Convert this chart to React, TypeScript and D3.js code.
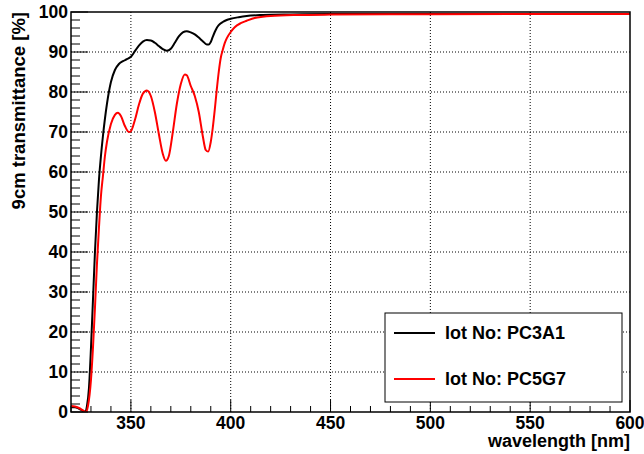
import React from "react";
import * as d3 from "d3";

const wlBlack = [320, 322, 324, 326, 327, 328, 329, 330, 331, 332, 333, 334, 335, 336, 338, 340, 342, 344, 346, 348, 350, 352, 354, 356, 358, 360, 362, 364, 366, 368, 370, 372, 374, 376, 378, 380, 382, 384, 386, 388, 389, 390, 391, 392, 393, 394, 396, 398, 400, 404, 408, 416, 430, 450, 500, 550, 600];
const tBlack = [1.2, 1.2, 0.8, 0.3, 0, 1.5, 6, 16, 28, 40, 50, 58, 64, 69, 77, 82.5, 85.5, 87, 87.7, 88.2, 88.8, 90.2, 91.6, 92.6, 93.0, 92.9, 92.3, 91.5, 90.7, 90.3, 90.8, 92.3, 93.9, 94.9, 95.2, 94.9, 94.4, 93.6, 92.7, 91.9, 91.9, 92.5, 93.8, 95.0, 96.0, 96.7, 97.5, 98.0, 98.3, 98.7, 99.0, 99.25, 99.4, 99.5, 99.5, 99.5, 99.5];

const wlRed = [320, 322, 324, 326, 327.5, 328.5, 330, 331, 332, 333, 334, 335, 336, 337, 338, 340, 342, 343.5, 345, 347, 349, 350, 352, 354, 356, 358, 360, 362, 364, 366, 367.5, 369, 371, 373, 375, 377, 378, 380, 382, 384, 386, 387.5, 388.7, 390, 391, 392, 393, 394, 395, 396, 397, 398, 400, 402, 405, 408, 412, 416, 420, 433, 450, 500, 550, 600];
const tRed = [1.5, 1.4, 1.0, 0.4, 0, 1.5, 8, 16, 26, 37, 46, 54, 59, 64, 67.5, 72, 74.3, 74.8, 74, 71.5, 70, 70.2, 73, 76.8, 79.6, 80.4, 79, 75, 69.5, 64.5, 62.8, 64, 70, 77, 82, 84.4, 84.2, 81.5, 79, 75, 69, 65.5, 65.1, 67.5, 71, 75.5, 80.5, 85, 88.5, 90.5, 92.2, 93.4, 95, 96.2, 97.2, 97.8, 98.5, 98.8, 99.0, 99.25, 99.35, 99.45, 99.5, 99.5];

const seriesNames = ["lot No: PC3A1", "lot No: PC5G7"];
const seriesColors = ["#000000", "#ff0000"];

const xMajor = [350, 400, 450, 500, 550, 600];
const xMinor = d3.range(320, 601, 10);
const yMajor = [0, 10, 20, 30, 40, 50, 60, 70, 80, 90, 100];
const yMinor = d3.range(0, 101, 2);

const W = 644;
const H = 454;
const L = 71;
const R = 630;
const T = 12;
const B = 412;

export default function App() {
  const x = d3.scaleLinear().domain([320, 600]).range([L, R]);
  const y = d3.scaleLinear().domain([0, 100]).range([B, T]);
  const line = d3
    .line<[number, number]>()
    .x((d) => x(d[0]))
    .y((d) => y(d[1]))
    .curve(d3.curveMonotoneX);
  const dBlack = line(wlBlack.map((w, i) => [w, tBlack[i]] as [number, number])) || "";
  const dRed = line(wlRed.map((w, i) => [w, tRed[i]] as [number, number])) || "";
  const font = "'Liberation Sans', Arial, Helvetica, sans-serif";

  return (
    <div style={{ position: "absolute", left: 0, top: 0 }}>
      <svg width={W} height={H} style={{ display: "block", background: "#fff" }}>
        <defs>
          <clipPath id="plotclip">
            <rect x={L} y={T} width={R - L} height={B - T} />
          </clipPath>
        </defs>
        <rect x={0} y={0} width={W} height={H} fill="#fff" />
        {xMajor
          .filter((v) => v < 600)
          .map((v) => (
            <line key={"gx" + v} x1={x(v)} x2={x(v)} y1={T} y2={B} stroke="#000" strokeWidth={1} strokeDasharray="1,2" />
          ))}
        {yMajor
          .filter((v) => v > 0 && v < 100)
          .map((v) => (
            <line key={"gy" + v} x1={L} x2={R} y1={y(v)} y2={y(v)} stroke="#000" strokeWidth={1} strokeDasharray="1,2" />
          ))}
        {yMinor.map((v) => (
          <line key={"ty" + v} x1={L} x2={L + (v % 10 === 0 ? 17 : 9)} y1={y(v)} y2={y(v)} stroke="#000" strokeWidth={1} />
        ))}
        {xMinor.map((v) => (
          <line key={"tx" + v} x1={x(v)} x2={x(v)} y1={B} y2={B - (v % 50 === 0 ? 12 : 6)} stroke="#000" strokeWidth={1} />
        ))}
        <g clipPath="url(#plotclip)">
          <path d={dBlack} fill="none" stroke={seriesColors[0]} strokeWidth={2} />
          <path d={dRed} fill="none" stroke={seriesColors[1]} strokeWidth={2} />
        </g>
        <rect x={L} y={T} width={R - L} height={B - T} fill="none" stroke="#000" strokeWidth={1.5} />
        {yMajor.map((v) => (
          <text key={"ly" + v} x={68} y={y(v)} dy="0.36em" textAnchor="end" fontFamily={font} fontWeight="bold" fontSize={17.5}>
            {v}
          </text>
        ))}
        {xMajor.map((v) => (
          <text key={"lx" + v} x={x(v)} y={429} textAnchor="middle" fontFamily={font} fontWeight="bold" fontSize={17.5}>
            {v}
          </text>
        ))}
        <text x={R} y={447} textAnchor="end" fontFamily={font} fontWeight="bold" fontSize={18}>
          wavelength [nm]
        </text>
        <text
          transform={`translate(25,${T}) rotate(-90)`}
          textAnchor="end"
          fontFamily={font}
          fontWeight="bold"
          fontSize={18.5}
        >
          9cm transmittance [%]
        </text>
        <rect x={385} y={313} width={237} height={89} fill="#fff" stroke="#000" strokeWidth={1} />
        {seriesNames.map((name, i) => (
          <g key={name}>
            <line x1={394} x2={435} y1={333 + i * 46} y2={333 + i * 46} stroke={seriesColors[i]} strokeWidth={2} />
            <text x={445} y={333 + i * 46} dy="0.36em" fontFamily={font} fontWeight="bold" fontSize={18}>
              {name}
            </text>
          </g>
        ))}
      </svg>
    </div>
  );
}
